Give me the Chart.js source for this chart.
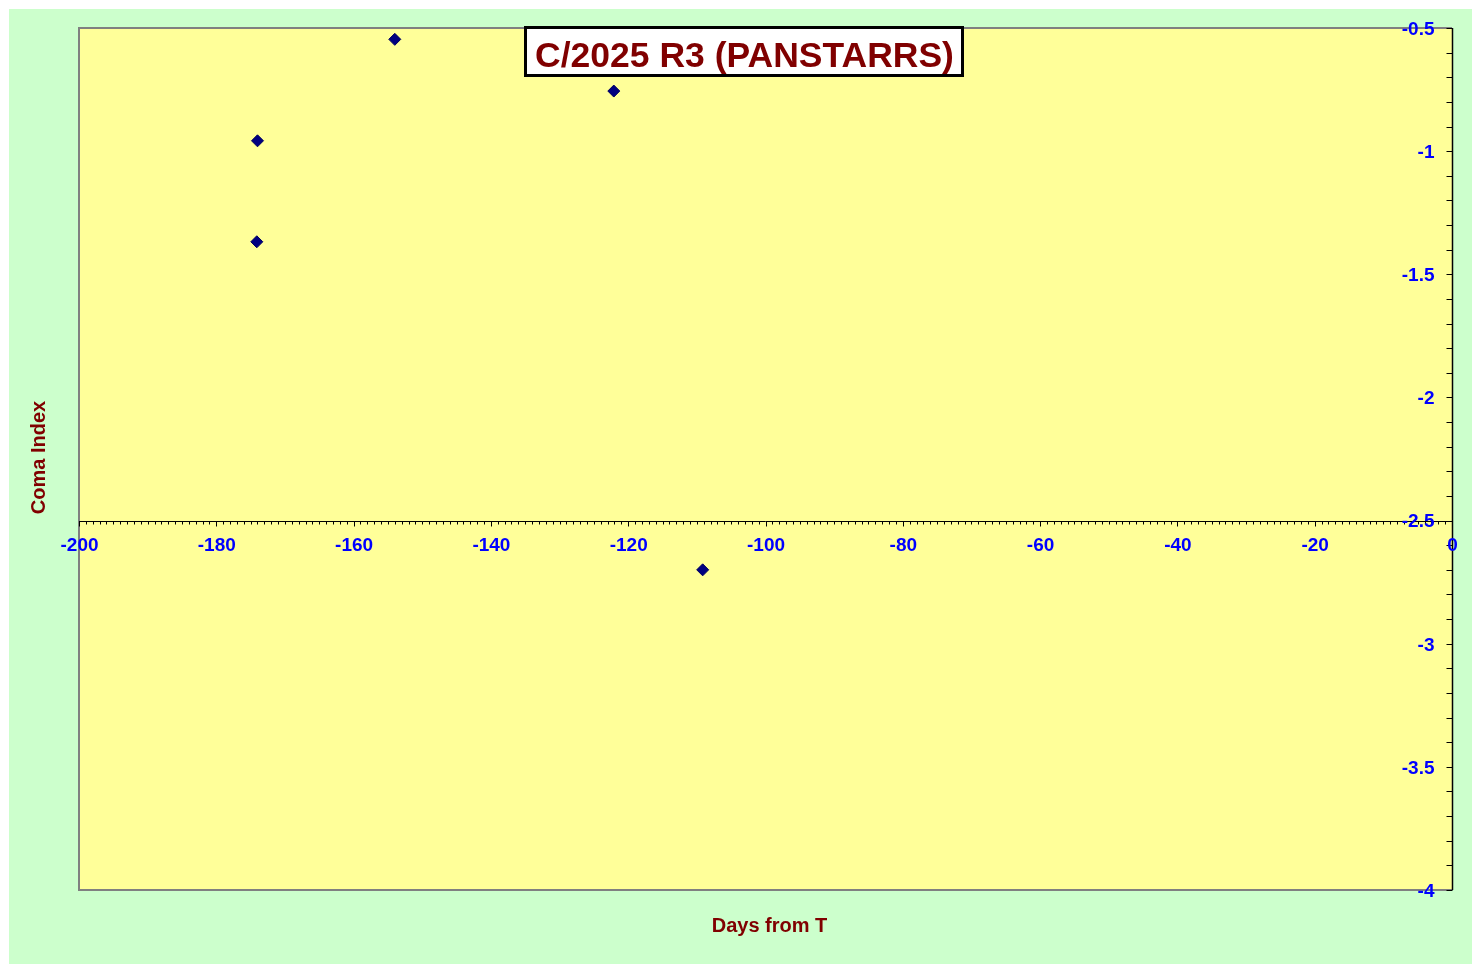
<!DOCTYPE html>
<html>
<head>
<meta charset="utf-8">
<script src="https://cdn.jsdelivr.net/npm/chart.js@4/dist/chart.umd.min.js"></script>
<style>
html,body{margin:0;padding:0;background:#ffffff;}
#wrap{width:1480px;height:973px;position:relative;}
</style>
</head>
<body>
<div id="wrap"><canvas id="c" width="1480" height="973"></canvas></div>
<script>
// ---- data ----
const daysFromT = [-174.0, -174.1, -154.0, -122.1, -109.15];
const comaIndex = [-0.958, -1.368, -0.546, -0.756, -2.70];
const xTickValues = [-200, -180, -160, -140, -120, -100, -80, -60, -40, -20, 0];
const yTickValues = [-0.5, -1, -1.5, -2, -2.5, -3, -3.5, -4];
const chartTitle = 'C/2025 R3 (PANSTARRS)';
const xTitle = 'Days from T';
const yTitle = 'Coma Index';

const points = daysFromT.map((x, i) => ({x: x, y: comaIndex[i]}));
const FONT = '"Liberation Sans", Arial, sans-serif';

const decor = {
  id: 'decor',
  beforeDraw(chart) {
    const ctx = chart.ctx;
    ctx.save();
    ctx.fillStyle = '#ffffff';
    ctx.fillRect(0, 0, chart.width, chart.height);
    ctx.fillStyle = '#CCFFCC';
    ctx.fillRect(9, 9, 1463, 955);
    const a = chart.chartArea;
    ctx.fillStyle = '#FFFF99';
    ctx.fillRect(a.left, a.top, a.right - a.left, a.bottom - a.top);
    ctx.restore();
  },
  beforeDatasetsDraw(chart) {
    const ctx = chart.ctx;
    const a = chart.chartArea;
    const xs = chart.scales.x, ys = chart.scales.y;
    ctx.save();
    // plot border
    ctx.strokeStyle = '#808080';
    ctx.lineWidth = 2;
    ctx.beginPath();
    ctx.moveTo(a.right, a.top); ctx.lineTo(a.left, a.top);
    ctx.lineTo(a.left, a.bottom); ctx.lineTo(a.right, a.bottom);
    ctx.stroke();

    // y axis at x = 0
    const yAxisX = Math.round(xs.getPixelForValue(0)) + 0.5;
    ctx.strokeStyle = '#000000';
    ctx.lineWidth = 1.5;
    ctx.beginPath();
    ctx.moveTo(yAxisX, ys.getPixelForValue(-0.5));
    ctx.lineTo(yAxisX, ys.getPixelForValue(-4));
    ctx.stroke();
    ctx.lineWidth = 1;
    ctx.beginPath();
    for (let k = 5; k <= 40; k++) {
      const py = Math.round(ys.getPixelForValue(-k / 10)) + 0.5;
      ctx.moveTo(yAxisX - 6, py); ctx.lineTo(yAxisX, py);
    }
    ctx.stroke();

    // x axis at y = -2.5
    const xAxisY = Math.round(ys.getPixelForValue(-2.5)) + 0.5;
    ctx.beginPath();
    ctx.moveTo(xs.getPixelForValue(-200), xAxisY);
    ctx.lineTo(xs.getPixelForValue(0), xAxisY);
    for (let v = -200; v <= 0; v++) {
      const px = Math.round(xs.getPixelForValue(v)) + 0.5;
      const len = (v % 20 === 0) ? 5 : 3;
      ctx.moveTo(px, xAxisY); ctx.lineTo(px, xAxisY + len);
    }
    ctx.stroke();
    ctx.restore();
  },
  afterDraw(chart) {
    const ctx = chart.ctx;
    const xs = chart.scales.x, ys = chart.scales.y;
    ctx.save();
    // tick labels
    ctx.fillStyle = '#0000FF';
    ctx.font = 'bold 19px ' + FONT;
    ctx.textBaseline = 'alphabetic';
    ctx.textAlign = 'center';
    const xLabY = ys.getPixelForValue(-2.5) + 30.5;
    xTickValues.forEach(v => {
      ctx.fillText(String(v), xs.getPixelForValue(v) + 0.5, xLabY);
    });
    ctx.textAlign = 'right';
    const yLabX = xs.getPixelForValue(0) - 17.5;
    yTickValues.forEach(v => {
      ctx.fillText(String(v), yLabX, ys.getPixelForValue(v) + 6.8);
    });

    // axis titles
    ctx.fillStyle = '#800000';
    ctx.font = 'bold 20px ' + FONT;
    ctx.textAlign = 'center';
    ctx.fillText(xTitle, 769.5, 932);
    ctx.save();
    ctx.translate(45, 457.5);
    ctx.rotate(-Math.PI / 2);
    ctx.fillText(yTitle, 0, 0);
    ctx.restore();

    // title box
    ctx.fillStyle = '#ffffff';
    ctx.fillRect(525, 27, 438, 49);
    ctx.strokeStyle = '#000000';
    ctx.lineWidth = 3;
    ctx.strokeRect(525.5, 27.5, 437, 48);
    ctx.fillStyle = '#800000';
    ctx.font = 'bold 35.5px ' + FONT;
    ctx.textAlign = 'center';
    ctx.fillText(chartTitle, 744.5, 66.5);
    ctx.restore();
  }
};

new Chart(document.getElementById('c'), {
  type: 'scatter',
  data: {
    datasets: [{
      label: 'Coma Index',
      data: points,
      pointStyle: 'rectRot',
      pointRadius: 6,
      pointHoverRadius: 6,
      backgroundColor: '#000080',
      borderColor: '#000060',
      borderWidth: 1,
      showLine: false
    }]
  },
  options: {
    responsive: false,
    animation: false,
    devicePixelRatio: 1,
    events: [],
    layout: { padding: { left: 79, top: 28, right: 28, bottom: 83 } },
    plugins: { legend: { display: false }, title: { display: false }, tooltip: { enabled: false } },
    scales: {
      x: { type: 'linear', min: -200, max: 0, display: false },
      y: { type: 'linear', min: -4, max: -0.5, display: false }
    }
  },
  plugins: [decor]
});
</script>
</body>
</html>
